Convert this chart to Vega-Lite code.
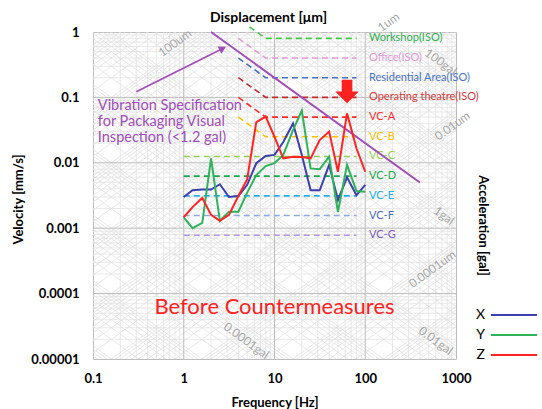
{
"$schema": "https://vega.github.io/schema/vega-lite/v6.json",
"width": 363, "height": 327,
"autosize": "none",
"padding": {"left": 93, "top": 32, "right": 86, "bottom": 50},
"background": "white",
"title": {"text": "Displacement [μm]", "fontSize": 14, "fontWeight": "bold", "font": "Lato", "color": "#000", "anchor": "middle", "offset": 8, "dx": -6, "dy": 23},
"config": {"view": {"stroke": "#bcbcbc", "strokeWidth": 1}, "font": "Lato", "axis": {"labelFont": "Lato", "titleFont": "Lato", "labelColor": "#000", "titleColor": "#000"}},
"datasets": {
"mv": [{"f":0.2},{"f":0.3},{"f":0.4},{"f":0.5},{"f":0.6},{"f":0.7},{"f":0.8},{"f":0.9},{"f":2},{"f":3},{"f":4},{"f":5},{"f":6},{"f":7},{"f":8},{"f":9},{"f":20},{"f":30},{"f":40},{"f":50},{"f":60},{"f":70},{"f":80},{"f":90},{"f":200},{"f":300},{"f":400},{"f":500},{"f":600},{"f":700},{"f":800},{"f":900}],
"mh": [{"v":2e-5},{"v":3e-5},{"v":4e-5},{"v":5e-5},{"v":6e-5},{"v":7e-5},{"v":8e-5},{"v":9e-5},{"v":2e-4},{"v":3e-4},{"v":4e-4},{"v":5e-4},{"v":6e-4},{"v":7e-4},{"v":8e-4},{"v":9e-4},{"v":0.002},{"v":0.003},{"v":0.004},{"v":0.005},{"v":0.006},{"v":0.007},{"v":0.008},{"v":0.009},{"v":0.02},{"v":0.03},{"v":0.04},{"v":0.05},{"v":0.06},{"v":0.07},{"v":0.08},{"v":0.09},{"v":0.2},{"v":0.3},{"v":0.4},{"v":0.5},{"v":0.6},{"v":0.7},{"v":0.8},{"v":0.9}],
"Mv": [{"f":1},{"f":10},{"f":100}],
"Mh": [{"v":0.0001},{"v":0.001},{"v":0.01},{"v":0.1}],
"diag": [
{"a":1.257e-9,"b":1.257e-5},{"a":1.885e-9,"b":1.885e-5},{"a":2.513e-9,"b":2.513e-5},{"a":3.142e-9,"b":3.142e-5},{"a":3.77e-9,"b":3.77e-5},{"a":4.398e-9,"b":4.398e-5},{"a":5.027e-9,"b":5.027e-5},{"a":5.655e-9,"b":5.655e-5},{"a":6.283e-9,"b":6.283e-5},
{"a":1.257e-8,"b":1.257e-4},{"a":1.885e-8,"b":1.885e-4},{"a":2.513e-8,"b":2.513e-4},{"a":3.142e-8,"b":3.142e-4},{"a":3.77e-8,"b":3.77e-4},{"a":4.398e-8,"b":4.398e-4},{"a":5.027e-8,"b":5.027e-4},{"a":5.655e-8,"b":5.655e-4},{"a":6.283e-8,"b":6.283e-4},
{"a":1.257e-7,"b":1.257e-3},{"a":1.885e-7,"b":1.885e-3},{"a":2.513e-7,"b":2.513e-3},{"a":3.142e-7,"b":3.142e-3},{"a":3.77e-7,"b":3.77e-3},{"a":4.398e-7,"b":4.398e-3},{"a":5.027e-7,"b":5.027e-3},{"a":5.655e-7,"b":5.655e-3},{"a":6.283e-7,"b":6.283e-3},
{"a":1.257e-6,"b":1.257e-2},{"a":1.885e-6,"b":1.885e-2},{"a":2.513e-6,"b":2.513e-2},{"a":3.142e-6,"b":3.142e-2},{"a":3.77e-6,"b":3.77e-2},{"a":4.398e-6,"b":4.398e-2},{"a":5.027e-6,"b":5.027e-2},{"a":5.655e-6,"b":5.655e-2},{"a":6.283e-6,"b":6.283e-2},
{"a":1.257e-5,"b":1.257e-1},{"a":1.885e-5,"b":1.885e-1},{"a":2.513e-5,"b":2.513e-1},{"a":3.142e-5,"b":3.142e-1},{"a":3.77e-5,"b":3.77e-1},{"a":4.398e-5,"b":4.398e-1},{"a":5.027e-5,"b":5.027e-1},{"a":5.655e-5,"b":5.655e-1},{"a":6.283e-5,"b":6.283e-1},
{"a":1.257e-4,"b":1.257},{"a":1.885e-4,"b":1.885},{"a":2.513e-4,"b":2.513},{"a":3.142e-4,"b":3.142},{"a":3.77e-4,"b":3.77},{"a":4.398e-4,"b":4.398},{"a":5.027e-4,"b":5.027},{"a":5.655e-4,"b":5.655},{"a":6.283e-4,"b":6.283},
{"a":1.257e-3,"b":12.57},{"a":1.885e-3,"b":18.85},{"a":2.513e-3,"b":25.13},{"a":3.142e-3,"b":31.42},{"a":3.77e-3,"b":37.7},{"a":4.398e-3,"b":43.98},{"a":5.027e-3,"b":50.27},{"a":5.655e-3,"b":56.55},{"a":6.283e-3,"b":62.83},
{"a":1.257e-2,"b":125.7},{"a":1.885e-2,"b":188.5},{"a":2.513e-2,"b":251.3},{"a":3.142e-2,"b":314.2},{"a":3.77e-2,"b":377},{"a":4.398e-2,"b":439.8},{"a":5.027e-2,"b":502.7},{"a":5.655e-2,"b":565.5},{"a":6.283e-2,"b":628.3},
{"a":1.257e-1,"b":1257},{"a":1.885e-1,"b":1885},{"a":2.513e-1,"b":2513},{"a":3.142e-1,"b":3142},{"a":3.77e-1,"b":3770},{"a":4.398e-1,"b":4398},{"a":5.027e-1,"b":5027},{"a":5.655e-1,"b":5655},{"a":6.283e-1,"b":6283},
{"a":1.114e-5,"b":1.114e-9},{"a":1.273e-5,"b":1.273e-9},{"a":1.432e-5,"b":1.432e-9},{"a":1.592e-5,"b":1.592e-9},{"a":3.183e-5,"b":3.183e-9},{"a":4.775e-5,"b":4.775e-9},{"a":6.366e-5,"b":6.366e-9},{"a":7.958e-5,"b":7.958e-9},{"a":9.549e-5,"b":9.549e-9},
{"a":1.114e-4,"b":1.114e-8},{"a":1.273e-4,"b":1.273e-8},{"a":1.432e-4,"b":1.432e-8},{"a":1.592e-4,"b":1.592e-8},{"a":3.183e-4,"b":3.183e-8},{"a":4.775e-4,"b":4.775e-8},{"a":6.366e-4,"b":6.366e-8},{"a":7.958e-4,"b":7.958e-8},{"a":9.549e-4,"b":9.549e-8},
{"a":1.114e-3,"b":1.114e-7},{"a":1.273e-3,"b":1.273e-7},{"a":1.432e-3,"b":1.432e-7},{"a":1.592e-3,"b":1.592e-7},{"a":3.183e-3,"b":3.183e-7},{"a":4.775e-3,"b":4.775e-7},{"a":6.366e-3,"b":6.366e-7},{"a":7.958e-3,"b":7.958e-7},{"a":9.549e-3,"b":9.549e-7},
{"a":1.114e-2,"b":1.114e-6},{"a":1.273e-2,"b":1.273e-6},{"a":1.432e-2,"b":1.432e-6},{"a":1.592e-2,"b":1.592e-6},{"a":3.183e-2,"b":3.183e-6},{"a":4.775e-2,"b":4.775e-6},{"a":6.366e-2,"b":6.366e-6},{"a":7.958e-2,"b":7.958e-6},{"a":9.549e-2,"b":9.549e-6},
{"a":1.114e-1,"b":1.114e-5},{"a":1.273e-1,"b":1.273e-5},{"a":1.432e-1,"b":1.432e-5},{"a":1.592e-1,"b":1.592e-5},{"a":3.183e-1,"b":3.183e-5},{"a":4.775e-1,"b":4.775e-5},{"a":6.366e-1,"b":6.366e-5},{"a":7.958e-1,"b":7.958e-5},{"a":9.549e-1,"b":9.549e-5},
{"a":1.114,"b":1.114e-4},{"a":1.273,"b":1.273e-4},{"a":1.432,"b":1.432e-4},{"a":1.592,"b":1.592e-4},{"a":3.183,"b":3.183e-4},{"a":4.775,"b":4.775e-4},{"a":6.366,"b":6.366e-4},{"a":7.958,"b":7.958e-4},{"a":9.549,"b":9.549e-4},
{"a":11.14,"b":1.114e-3},{"a":12.73,"b":1.273e-3},{"a":14.32,"b":1.432e-3},{"a":15.92,"b":1.592e-3},{"a":31.83,"b":3.183e-3},{"a":47.75,"b":4.775e-3},{"a":63.66,"b":6.366e-3},{"a":79.58,"b":7.958e-3},{"a":95.49,"b":9.549e-3},
{"a":111.4,"b":1.114e-2},{"a":127.3,"b":1.273e-2},{"a":143.2,"b":1.432e-2},{"a":159.2,"b":1.592e-2},{"a":318.3,"b":3.183e-2},{"a":477.5,"b":4.775e-2},{"a":636.6,"b":6.366e-2},{"a":795.8,"b":7.958e-2},{"a":954.9,"b":9.549e-2},
{"a":1114,"b":1.114e-1},{"a":1273,"b":1.273e-1},{"a":1432,"b":1.432e-1},{"a":1592,"b":1.592e-1},{"a":3183,"b":3.183e-1},{"a":4775,"b":4.775e-1},{"a":6366,"b":6.366e-1},{"a":7958,"b":7.958e-1},{"a":9549,"b":9.549e-1}
],
"glab": [
{"t":"100um","f":0.8,"v":0.68,"k":"d"},
{"t":"1um","f":181,"v":1.42,"k":"d"},
{"t":"100gal","f":679,"v":0.348,"k":"a"},
{"t":"0.01um","f":914,"v":0.0366,"k":"d"},
{"t":"1gal","f":738,"v":0.00155,"k":"a"},
{"t":"0.0001um","f":550,"v":0.000238,"k":"d"},
{"t":"0.01gal","f":598,"v":0.000019,"k":"a"},
{"t":"0.0001gal","f":4.9,"v":0.000019,"k":"a"}
],
"crit": [
{"n":"Workshop(ISO)","f":5.3,"v":1.2},{"n":"Workshop(ISO)","f":8,"v":0.8},{"n":"Workshop(ISO)","f":80,"v":0.8},
{"n":"Office(ISO)","f":4,"v":0.8},{"n":"Office(ISO)","f":8,"v":0.4},{"n":"Office(ISO)","f":80,"v":0.4},
{"n":"Residential Area(ISO)","f":4,"v":0.4},{"n":"Residential Area(ISO)","f":8,"v":0.2},{"n":"Residential Area(ISO)","f":80,"v":0.2},
{"n":"Operating theatre(ISO)","f":4,"v":0.2},{"n":"Operating theatre(ISO)","f":8,"v":0.1},{"n":"Operating theatre(ISO)","f":80,"v":0.1},
{"n":"VC-A","f":4,"v":0.1},{"n":"VC-A","f":8,"v":0.05},{"n":"VC-A","f":80,"v":0.05},
{"n":"VC-B","f":4,"v":0.05},{"n":"VC-B","f":8,"v":0.025},{"n":"VC-B","f":80,"v":0.025},
{"n":"VC-C","f":1,"v":0.0125},{"n":"VC-C","f":80,"v":0.0125},
{"n":"VC-D","f":1,"v":0.00625},{"n":"VC-D","f":80,"v":0.00625},
{"n":"VC-E","f":1,"v":0.003125},{"n":"VC-E","f":80,"v":0.003125},
{"n":"VC-F","f":1,"v":0.0015625},{"n":"VC-F","f":80,"v":0.0015625},
{"n":"VC-G","f":1,"v":0.00078},{"n":"VC-G","f":80,"v":0.00078}
],
"critlab": [
{"n":"Workshop(ISO)","v":0.8},{"n":"Office(ISO)","v":0.4},{"n":"Residential Area(ISO)","v":0.2},{"n":"Operating theatre(ISO)","v":0.1},
{"n":"VC-A","v":0.05},{"n":"VC-B","v":0.025},{"n":"VC-C","v":0.0125},{"n":"VC-D","v":0.00625},{"n":"VC-E","v":0.003125},{"n":"VC-F","v":0.0015625},{"n":"VC-G","v":0.00078}
],
"spec": [{"f":2,"v":1},{"f":400,"v":0.005}],
"arrow": [{"f":0.3,"v":0.122},{"f":2.69,"v":0.56}],
"head": [{"f":2.69,"v":0.56}],
"spectext": [{"t":"Vibration Specification","v":0.075},{"t":"for Packaging Visual","v":0.042},{"t":"Inspection (<1.2 gal)","v":0.0240}],
"down": [{"f":63,"v":0.123}],
"before": [{"t":"Before Countermeasures","f":10,"v":0.000062}],
"xyz": [
{"s":"X","f":1,"v":0.0030},{"s":"X","f":1.25,"v":0.0038},{"s":"X","f":1.6,"v":0.0039},{"s":"X","f":2,"v":0.0039},{"s":"X","f":2.5,"v":0.0047},{"s":"X","f":3.15,"v":0.0030},{"s":"X","f":4,"v":0.0031},{"s":"X","f":5,"v":0.0046},{"s":"X","f":6.3,"v":0.0099},{"s":"X","f":8,"v":0.0127},{"s":"X","f":10,"v":0.0132},{"s":"X","f":12.5,"v":0.0208},{"s":"X","f":16,"v":0.040},{"s":"X","f":20,"v":0.0132},{"s":"X","f":25,"v":0.0038},{"s":"X","f":31.5,"v":0.0038},{"s":"X","f":40,"v":0.0093},{"s":"X","f":50,"v":0.0027},{"s":"X","f":63,"v":0.0060},{"s":"X","f":80,"v":0.0032},{"s":"X","f":100,"v":0.0046},
{"s":"Y","f":1,"v":0.00147},{"s":"Y","f":1.25,"v":0.00100},{"s":"Y","f":1.6,"v":0.00121},{"s":"Y","f":2,"v":0.0117},{"s":"Y","f":2.5,"v":0.00129},{"s":"Y","f":3.15,"v":0.00179},{"s":"Y","f":4,"v":0.00179},{"s":"Y","f":5,"v":0.0035},{"s":"Y","f":6.3,"v":0.0065},{"s":"Y","f":8,"v":0.0089},{"s":"Y","f":10,"v":0.0099},{"s":"Y","f":12.5,"v":0.0132},{"s":"Y","f":16,"v":0.0316},{"s":"Y","f":20,"v":0.063},{"s":"Y","f":25,"v":0.0082},{"s":"Y","f":31.5,"v":0.0080},{"s":"Y","f":40,"v":0.0124},{"s":"Y","f":50,"v":0.00177},{"s":"Y","f":63,"v":0.0093},{"s":"Y","f":80,"v":0.0037},{"s":"Y","f":100,"v":0.0036},
{"s":"Z","f":1,"v":0.00147},{"s":"Z","f":1.25,"v":0.0021},{"s":"Z","f":1.6,"v":0.0029},{"s":"Z","f":2,"v":0.0016},{"s":"Z","f":2.5,"v":0.0013},{"s":"Z","f":3.15,"v":0.0016},{"s":"Z","f":4,"v":0.0031},{"s":"Z","f":5,"v":0.0056},{"s":"Z","f":6.3,"v":0.042},{"s":"Z","f":8,"v":0.051},{"s":"Z","f":10,"v":0.025},{"s":"Z","f":12.5,"v":0.0117},{"s":"Z","f":16,"v":0.0124},{"s":"Z","f":20,"v":0.0123},{"s":"Z","f":25,"v":0.0117},{"s":"Z","f":31.5,"v":0.0223},{"s":"Z","f":40,"v":0.030},{"s":"Z","f":50,"v":0.0073},{"s":"Z","f":63,"v":0.057},{"s":"Z","f":80,"v":0.0167},{"s":"Z","f":100,"v":0.0073}
]
},
"layer": [
{"data": {"name": "mv"}, "mark": {"type": "rule", "stroke": "#e4e4e4", "strokeWidth": 0.8},
 "encoding": {"x": {"field": "f", "type": "quantitative", "scale": {"type": "log", "domain": [0.1, 1000], "nice": false},
  "axis": {"values": [0.1, 1, 10, 100, 1000], "labelExpr": "'' + datum.value", "title": "Frequency [Hz]", "grid": false, "ticks": false, "domain": false, "labelFontSize": 13, "labelFontWeight": "bold", "labelPadding": 13, "labelFlush": false, "labelOverlap": false, "titleFontSize": 13, "titleFontWeight": "bold", "titleY": 43, "titleBaseline": "middle"}}}},
{"data": {"name": "mh"}, "mark": {"type": "rule", "stroke": "#e4e4e4", "strokeWidth": 0.8},
 "encoding": {"y": {"field": "v", "type": "quantitative", "scale": {"type": "log", "domain": [0.00001, 1], "nice": false},
  "axis": {"values": [1, 0.1, 0.01, 0.001, 0.0001, 0.00001], "labelExpr": "'' + datum.value", "title": "Velocity [mm/s]", "grid": false, "ticks": false, "domain": false, "labelFontSize": 13, "labelFontWeight": "bold", "labelPadding": 14, "labelFlush": false, "labelOverlap": false, "titleFontSize": 13, "titleFontWeight": "bold", "titleX": -75, "titleY": 167, "titleAngle": 270, "titleAlign": "center", "titleBaseline": "middle"}}}},
{"data": {"name": "diag"}, "mark": {"type": "rule", "stroke": "#e0e0e0", "strokeWidth": 0.7, "clip": true},
 "encoding": {"x": {"datum": 0.1, "type": "quantitative", "scale": {"type": "log", "domain": [0.1, 1000], "nice": false}, "axis": null},
  "x2": {"datum": 1000},
  "y": {"field": "a", "type": "quantitative", "scale": {"type": "log", "domain": [0.00001, 1], "nice": false}, "axis": null},
  "y2": {"field": "b"}}},
{"data": {"name": "Mv"}, "mark": {"type": "rule", "stroke": "#bcbcbc", "strokeWidth": 1},
 "encoding": {"x": {"field": "f", "type": "quantitative", "scale": {"type": "log", "domain": [0.1, 1000], "nice": false}, "axis": null}}},
{"data": {"name": "Mh"}, "mark": {"type": "rule", "stroke": "#bcbcbc", "strokeWidth": 1},
 "encoding": {"y": {"field": "v", "type": "quantitative", "scale": {"type": "log", "domain": [0.00001, 1], "nice": false},
  "axis": {"orient": "right", "title": "Acceleration [gal]", "labels": false, "ticks": false, "domain": false, "grid": false, "titleAngle": 90, "titleX": 26, "titleY": 193, "titleAlign": "center", "titleBaseline": "middle", "titleFontSize": 13, "titleFontWeight": "bold"}}}},
{"data": {"name": "glab"}, "mark": {"type": "text", "fontSize": 12, "color": "#a8a8a8", "align": "center", "baseline": "middle"},
 "encoding": {"x": {"field": "f", "type": "quantitative", "scale": {"type": "log", "domain": [0.1, 1000], "nice": false}, "axis": null},
  "y": {"field": "v", "type": "quantitative", "scale": {"type": "log", "domain": [0.00001, 1], "nice": false}, "axis": null},
  "angle": {"field": "k", "type": "nominal", "scale": {"domain": ["d", "a"], "range": [-36, 36]}, "legend": null},
  "text": {"field": "t"}}},
{"data": {"name": "crit"}, "mark": {"type": "line", "strokeWidth": 1.6, "strokeDash": [6, 4]},
 "encoding": {"x": {"field": "f", "type": "quantitative", "scale": {"type": "log", "domain": [0.1, 1000], "nice": false}, "axis": null},
  "y": {"field": "v", "type": "quantitative", "scale": {"type": "log", "domain": [0.00001, 1], "nice": false}, "axis": null},
  "color": {"field": "n", "type": "nominal", "legend": null, "scale": {"domain": ["Workshop(ISO)", "Office(ISO)", "Residential Area(ISO)", "Operating theatre(ISO)", "VC-A", "VC-B", "VC-C", "VC-D", "VC-E", "VC-F", "VC-G"], "range": ["#44c844", "#e599d9", "#4472c4", "#c0282d", "#ff2a2a", "#ffc000", "#92d050", "#1aa84b", "#20b0f0", "#8eaadc", "#b09ae0"]}}}},
{"data": {"name": "critlab"}, "mark": {"type": "text", "fontSize": 11, "align": "left", "baseline": "middle"},
 "encoding": {"x": {"datum": 110, "type": "quantitative", "scale": {"type": "log", "domain": [0.1, 1000], "nice": false}, "axis": null},
  "y": {"field": "v", "type": "quantitative", "scale": {"type": "log", "domain": [0.00001, 1], "nice": false}, "axis": null},
  "text": {"field": "n"},
  "color": {"field": "n", "type": "nominal", "legend": null, "scale": {"domain": ["Workshop(ISO)", "Office(ISO)", "Residential Area(ISO)", "Operating theatre(ISO)", "VC-A", "VC-B", "VC-C", "VC-D", "VC-E", "VC-F", "VC-G"], "range": ["#2fb04f", "#e59ad9", "#4a72c4", "#d43a3a", "#ff2a2a", "#ffbf00", "#92d050", "#1aa84b", "#20b0ee", "#4a6cc2", "#7a5cb8"]}}}},
{"data": {"name": "spec"}, "mark": {"type": "line", "color": "#a04cb8", "strokeWidth": 2},
 "encoding": {"x": {"field": "f", "type": "quantitative", "scale": {"type": "log", "domain": [0.1, 1000], "nice": false}, "axis": null},
  "y": {"field": "v", "type": "quantitative", "scale": {"type": "log", "domain": [0.00001, 1], "nice": false}, "axis": null}}},
{"data": {"name": "arrow"}, "mark": {"type": "line", "color": "#a04cb8", "strokeWidth": 1.5},
 "encoding": {"x": {"field": "f", "type": "quantitative", "scale": {"type": "log", "domain": [0.1, 1000], "nice": false}, "axis": null},
  "y": {"field": "v", "type": "quantitative", "scale": {"type": "log", "domain": [0.00001, 1], "nice": false}, "axis": null}}},
{"data": {"name": "head"}, "mark": {"type": "point", "shape": "triangle-up", "filled": true, "color": "#a04cb8", "size": 70, "angle": 63, "opacity": 1},
 "encoding": {"x": {"field": "f", "type": "quantitative", "scale": {"type": "log", "domain": [0.1, 1000], "nice": false}, "axis": null},
  "y": {"field": "v", "type": "quantitative", "scale": {"type": "log", "domain": [0.00001, 1], "nice": false}, "axis": null}}},
{"data": {"name": "spectext"}, "mark": {"type": "text", "fontSize": 14.5, "color": "#a04cb8", "align": "left", "baseline": "middle"},
 "encoding": {"x": {"datum": 0.113, "type": "quantitative", "scale": {"type": "log", "domain": [0.1, 1000], "nice": false}, "axis": null},
  "y": {"field": "v", "type": "quantitative", "scale": {"type": "log", "domain": [0.00001, 1], "nice": false}, "axis": null},
  "text": {"field": "t"}}},
{"data": {"name": "xyz"}, "mark": {"type": "line", "strokeWidth": 2},
 "encoding": {"x": {"field": "f", "type": "quantitative", "scale": {"type": "log", "domain": [0.1, 1000], "nice": false}, "axis": null},
  "y": {"field": "v", "type": "quantitative", "scale": {"type": "log", "domain": [0.00001, 1], "nice": false}, "axis": null},
  "color": {"field": "s", "type": "nominal", "scale": {"domain": ["X", "Y", "Z"], "range": ["#3c3fae", "#2eb35a", "#ff2424"]},
   "legend": {"orient": "none", "legendX": 414, "legendY": 276, "title": null, "padding": 0, "symbolType": "M-5,0L5,0", "symbolSize": 85, "symbolStrokeWidth": 2, "labelFontSize": 14, "labelFont": "Lato", "labelColor": "#000", "labelAlign": "right", "labelOffset": -36, "rowPadding": 6}}}},
{"data": {"name": "down"}, "mark": {"type": "point", "shape": "M-0.45,-1L0.45,-1L0.45,0L1,0L0,1L-1,0L-0.45,0Z", "filled": true, "color": "#ff2020", "size": 560, "opacity": 1},
 "encoding": {"x": {"field": "f", "type": "quantitative", "scale": {"type": "log", "domain": [0.1, 1000], "nice": false}, "axis": null},
  "y": {"field": "v", "type": "quantitative", "scale": {"type": "log", "domain": [0.00001, 1], "nice": false}, "axis": null}}},
{"data": {"name": "before"}, "mark": {"type": "text", "fontSize": 22, "color": "#ff2020", "align": "center", "baseline": "middle"},
 "encoding": {"x": {"field": "f", "type": "quantitative", "scale": {"type": "log", "domain": [0.1, 1000], "nice": false}, "axis": null},
  "y": {"field": "v", "type": "quantitative", "scale": {"type": "log", "domain": [0.00001, 1], "nice": false}, "axis": null},
  "text": {"field": "t"}}}
],
"resolve": {"scale": {"color": "independent"}, "axis": {"x": "independent", "y": "independent"}}
}
